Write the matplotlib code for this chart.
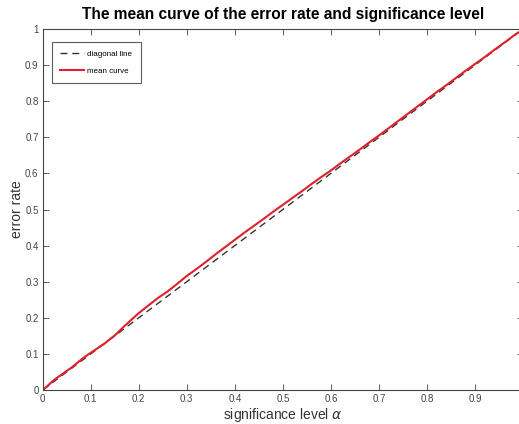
import matplotlib
matplotlib.use("Agg")
import matplotlib.pyplot as plt

plt.rcParams['font.family'] = ['Liberation Sans', 'DejaVu Sans']

# significance levels and the mean observed error rate at each level
alpha = [0.00, 0.01, 0.02, 0.03, 0.04, 0.05, 0.06, 0.07, 0.08, 0.09,
         0.10, 0.11, 0.12, 0.13, 0.14, 0.15, 0.16, 0.17, 0.18, 0.19,
         0.20, 0.22, 0.24, 0.26, 0.28, 0.30, 0.32, 0.34, 0.36, 0.38,
         0.40, 0.42, 0.44, 0.46, 0.48, 0.50, 0.52, 0.54, 0.56, 0.58,
         0.60, 0.62, 0.64, 0.66, 0.68, 0.70, 0.72, 0.74, 0.76, 0.78,
         0.80, 0.82, 0.84, 0.86, 0.88, 0.90, 0.92, 0.94, 0.96, 0.98, 0.99]
error_rate = [0.000, 0.011, 0.024, 0.034, 0.043, 0.053, 0.062, 0.073, 0.084, 0.094,
              0.103, 0.112, 0.121, 0.130, 0.141, 0.151, 0.164, 0.177, 0.189, 0.201,
              0.213, 0.234, 0.255, 0.273, 0.294, 0.316, 0.335, 0.355, 0.376, 0.396,
              0.416, 0.436, 0.455, 0.474, 0.494, 0.513, 0.532, 0.551, 0.571, 0.590,
              0.608, 0.628, 0.647, 0.666, 0.686, 0.705, 0.725, 0.745, 0.765, 0.785,
              0.805, 0.825, 0.844, 0.864, 0.884, 0.903, 0.922, 0.942, 0.961, 0.981, 0.990]

diag_x = [0.0, 1.0]
diag_y = [0.0, 1.0]

x_ticks = [0, 0.1, 0.2, 0.3, 0.4, 0.5, 0.6, 0.7, 0.8, 0.9, 1.0]
x_tick_labels = ['0', '0.1', '0.2', '0.3', '0.4', '0.5', '0.6', '0.7', '0.8', '0.9', '']
y_ticks = [0, 0.1, 0.2, 0.3, 0.4, 0.5, 0.6, 0.7, 0.8, 0.9, 1.0]
y_tick_labels = ['0', '0.1', '0.2', '0.3', '0.4', '0.5', '0.6', '0.7', '0.8', '0.9', '1']

W, H = 519, 424
fig = plt.figure(figsize=(W / 100, H / 100), dpi=100)
left, right, bottom, top = 42.7, 523, 390, 29
ax = fig.add_axes([left / W, 1 - bottom / H, (right - left) / W, (bottom - top) / H])

ax.plot(diag_x, diag_y, linestyle=(0, (5, 3.5)), color='#333333', linewidth=1.0,
        label='diagonal line')
ax.plot(alpha, error_rate, color='#e0202a', linewidth=1.5, label='mean curve')

ax.set_xlim(0, 1)
ax.set_ylim(0, 1)
ax.set_xticks(x_ticks)
ax.set_xticklabels(x_tick_labels)
ax.set_yticks(y_ticks)
ax.set_yticklabels(y_tick_labels)
ax.tick_params(direction='in', length=4, width=0.6, top=True, right=True,
               labelsize=7, labelcolor='#444444', color='#444444', pad=3)
for s in ax.spines.values():
    s.set_linewidth(0.8)
    s.set_color('#444444')

ax.set_xlabel(r'significance level $\alpha$', fontsize=10, color='#333333', labelpad=1)
ax.set_ylabel('error rate', fontsize=10, color='#333333', labelpad=1)
fig.text((left + right) / 2 / W, 1 - 15 / H,
         'The mean curve of the error rate and significance level',
         ha='center', va='center', fontsize=11.2, fontweight='bold')

leg = ax.legend(loc='upper left', fontsize=5.8, frameon=True, fancybox=False,
                edgecolor='#333333', bbox_to_anchor=((52 - left) / (right - left),
                                                     (bottom - 42) / (bottom - top)),
                borderaxespad=0, handlelength=3.0, handletextpad=0.4,
                borderpad=1.0, labelspacing=1.2)
leg.get_frame().set_linewidth(0.8)

fig.savefig('out.png', dpi=100)
